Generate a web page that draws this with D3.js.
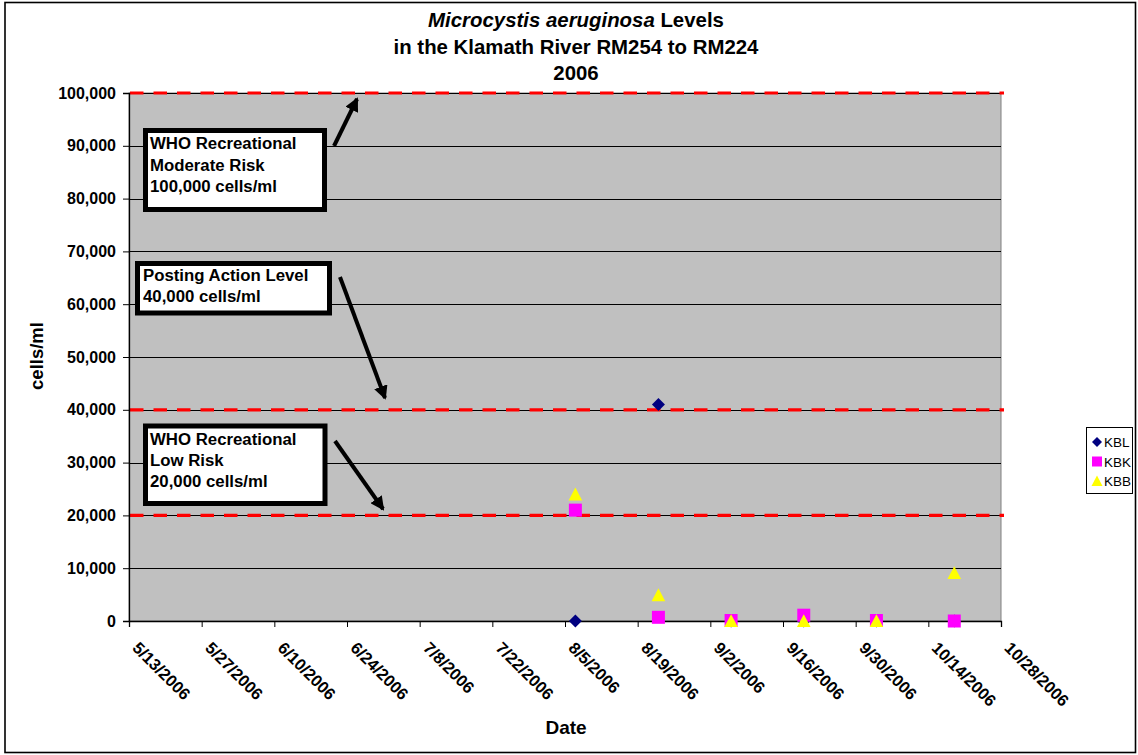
<!DOCTYPE html>
<html>
<head>
<meta charset="utf-8">
<script src="https://cdn.jsdelivr.net/npm/d3@7/dist/d3.min.js"></script>
<style>
  html, body { margin: 0; padding: 0; background: #fff; }
  svg { display: block; font-family: "Liberation Sans", Arial, sans-serif; }
</style>
</head>
<body>
<svg id="chart" width="1138" height="755"></svg>
<script>
// Sampling dates and cell counts (cells/ml) for each station
const sampleDates = ["8/7/2006", "8/23/2006", "9/6/2006", "9/20/2006", "10/4/2006", "10/19/2006"];
const kblValues = [0, 41000, 0, 0, 0, 0];
const kbkValues = [21000, 700, 100, 1100, 100, 0];
const kbbValues = [24000, 4900, 0, 0, 0, 9100];

const seriesNames = ["KBL", "KBK", "KBB"];
const seriesColors = ["#000080", "#FF00FF", "#FFFF00"];

// Axis ticks
const xTickLabels = ["5/13/2006", "5/27/2006", "6/10/2006", "6/24/2006", "7/8/2006", "7/22/2006",
  "8/5/2006", "8/19/2006", "9/2/2006", "9/16/2006", "9/30/2006", "10/14/2006", "10/28/2006"];
const yTickValues = [0, 10000, 20000, 30000, 40000, 50000, 60000, 70000, 80000, 90000, 100000];

// Guideline thresholds and their callouts
const thresholds = [100000, 40000, 20000];
const calloutLines = [
  ["WHO Recreational", "Moderate Risk", "100,000 cells/ml"],
  ["Posting Action Level", "40,000 cells/ml"],
  ["WHO Recreational", "Low Risk", "20,000 cells/ml"]
];

const parse = d3.timeParse("%m/%d/%Y");
const svg = d3.select("#chart");
const fontFamily = "'Liberation Sans', Arial, sans-serif";

const plot = { left: 129, right: 1001, top: 93, bottom: 621 };
const x = d3.scaleTime()
  .domain([parse(xTickLabels[0]), parse(xTickLabels[xTickLabels.length - 1])])
  .range([plot.left, plot.right]);
const y = d3.scaleLinear().domain([0, 100000]).range([plot.bottom, plot.top]);

// Outer frame
svg.append("rect").attr("x", 5).attr("y", 2.5).attr("width", 1130.5).attr("height", 750)
  .attr("fill", "#fff").attr("stroke", "#000").attr("stroke-width", 1.6);

// Plot background
svg.append("rect")
  .attr("x", plot.left).attr("y", plot.top)
  .attr("width", plot.right - plot.left).attr("height", plot.bottom - plot.top)
  .attr("fill", "#C0C0C0").attr("stroke", "#808080").attr("stroke-width", 1);

// Horizontal gridlines
svg.append("g").selectAll("line").data(yTickValues.slice(1)).join("line")
  .attr("x1", plot.left).attr("x2", plot.right)
  .attr("y1", d => Math.round(y(d)) + 0.5).attr("y2", d => Math.round(y(d)) + 0.5)
  .attr("stroke", "#000").attr("stroke-width", 1);

// Threshold dashed lines
svg.append("g").selectAll("line").data(thresholds).join("line")
  .attr("x1", plot.left + 1).attr("x2", plot.right + 3)
  .attr("y1", d => y(d)).attr("y2", d => y(d))
  .attr("stroke", "#FF0000").attr("stroke-width", 3.2)
  .attr("stroke-dasharray", "13.5,10");

// Y axis
const yAxis = d3.axisLeft(y).tickValues(yTickValues).tickSize(6).tickPadding(7)
  .tickFormat(d3.format(","));
const gy = svg.append("g").attr("transform", `translate(${plot.left},0)`).call(yAxis)
  .attr("font-family", fontFamily).attr("font-size", 16);
gy.select(".domain").attr("stroke", "#000").attr("stroke-width", 1.3);
gy.selectAll(".tick line").attr("stroke", "#000");
gy.selectAll(".tick text").attr("font-weight", "bold").attr("fill", "#000");

// X axis
const xAxis = d3.axisBottom(x).tickValues(xTickLabels.map(parse)).tickSize(6)
  .tickFormat(d3.timeFormat("%-m/%-d/%Y"));
const gx = svg.append("g").attr("transform", `translate(0,${plot.bottom})`).call(xAxis)
  .attr("font-family", fontFamily).attr("font-size", 16.5);
gx.select(".domain").attr("stroke", "#000").attr("stroke-width", 1.3);
gx.selectAll(".tick line").attr("stroke", "#000");
gx.selectAll(".tick text")
  .attr("font-weight", "bold").attr("fill", "#000")
  .attr("text-anchor", "start").attr("x", 0).attr("y", 0).attr("dy", 0)
  .attr("transform", "translate(2,28) rotate(45)");

// Axis titles
svg.append("text").attr("x", 566).attr("y", 734).attr("text-anchor", "middle")
  .attr("font-size", 19).attr("font-weight", "bold").text("Date");
svg.append("text").attr("transform", "translate(43,356) rotate(-90)")
  .attr("text-anchor", "middle").attr("font-size", 18.5).attr("font-weight", "bold").text("cells/ml");

// Chart title
const title = svg.append("text").attr("text-anchor", "middle").attr("font-size", 20.4).attr("font-weight", "bold");
const t1 = title.append("tspan").attr("x", 576).attr("y", 26.5);
t1.append("tspan").attr("font-style", "italic").text("Microcystis aeruginosa");
t1.append("tspan").text(" Levels");
title.append("tspan").attr("x", 576).attr("y", 54).text("in the Klamath River RM254 to RM224");
title.append("tspan").attr("x", 576).attr("y", 80).text("2006");

// Callout boxes with arrows to the threshold lines
const defs = svg.append("defs");
defs.append("marker").attr("id", "arrowhead")
  .attr("viewBox", "0 0 14 14").attr("refX", 12).attr("refY", 7)
  .attr("markerWidth", 14).attr("markerHeight", 14)
  .attr("markerUnits", "userSpaceOnUse").attr("orient", "auto")
  .append("path").attr("d", "M0,0 L14,7 L0,14 Z").attr("fill", "#000");

const callouts = [
  { box: [145.5, 130.5, 179, 79], text: [150, 149, 21.5], from: [334, 146], to: [357, 99] },
  { box: [137.5, 263.5, 192, 49.5], text: [143, 281, 21], from: [340, 277], to: [385, 398] },
  { box: [145.5, 426, 179.5, 77.5], text: [150, 445, 21], from: [335, 441], to: [383, 509] }
];
callouts.forEach((c, i) => {
  svg.append("rect").attr("x", c.box[0]).attr("y", c.box[1])
    .attr("width", c.box[2]).attr("height", c.box[3])
    .attr("fill", "#fff").attr("stroke", "#000").attr("stroke-width", 5);
  const t = svg.append("text").attr("font-size", 16.8).attr("font-weight", "bold");
  calloutLines[i].forEach((line, j) => {
    t.append("tspan").attr("x", c.text[0]).attr("y", c.text[1] + j * c.text[2]).text(line);
  });
  svg.append("line").attr("x1", c.from[0]).attr("y1", c.from[1])
    .attr("x2", c.to[0]).attr("y2", c.to[1])
    .attr("stroke", "#000").attr("stroke-width", 4)
    .attr("marker-end", "url(#arrowhead)");
});

// Marker shapes
const markerPath = {
  KBL: s => `M0,${-s}L${s},0L0,${s}L${-s},0Z`,
  KBK: s => `M${-s},${-s}H${s}V${s}H${-s}Z`,
  KBB: s => `M0,${-s}L${s},${s * 0.9}L${-s},${s * 0.9}Z`
};
const markerSize = { KBL: 6.5, KBK: 6.5, KBB: 6.8 };

const seriesValues = [kblValues, kbkValues, kbbValues];
seriesNames.forEach((name, i) => {
  const pts = sampleDates.map((d, k) => ({ date: parse(d), value: seriesValues[i][k] }));
  svg.append("g").selectAll("path").data(pts).join("path")
    .attr("transform", d => `translate(${x(d.date)},${y(d.value)})`)
    .attr("d", markerPath[name](markerSize[name]))
    .attr("fill", seriesColors[i]);
});

// Legend
const legend = svg.append("g");
legend.append("rect").attr("x", 1086.5).attr("y", 427.5).attr("width", 46).attr("height", 66)
  .attr("fill", "#fff").attr("stroke", "#000").attr("stroke-width", 1);
seriesNames.forEach((name, i) => {
  const cy = 442 + i * 19.5;
  legend.append("path").attr("transform", `translate(1097,${cy})`)
    .attr("d", markerPath[name](name === "KBB" ? 5.5 : 5))
    .attr("fill", seriesColors[i]);
  legend.append("text").attr("x", 1104).attr("y", cy + 5)
    .attr("font-size", 13.5).text(name);
});
</script>
</body>
</html>
